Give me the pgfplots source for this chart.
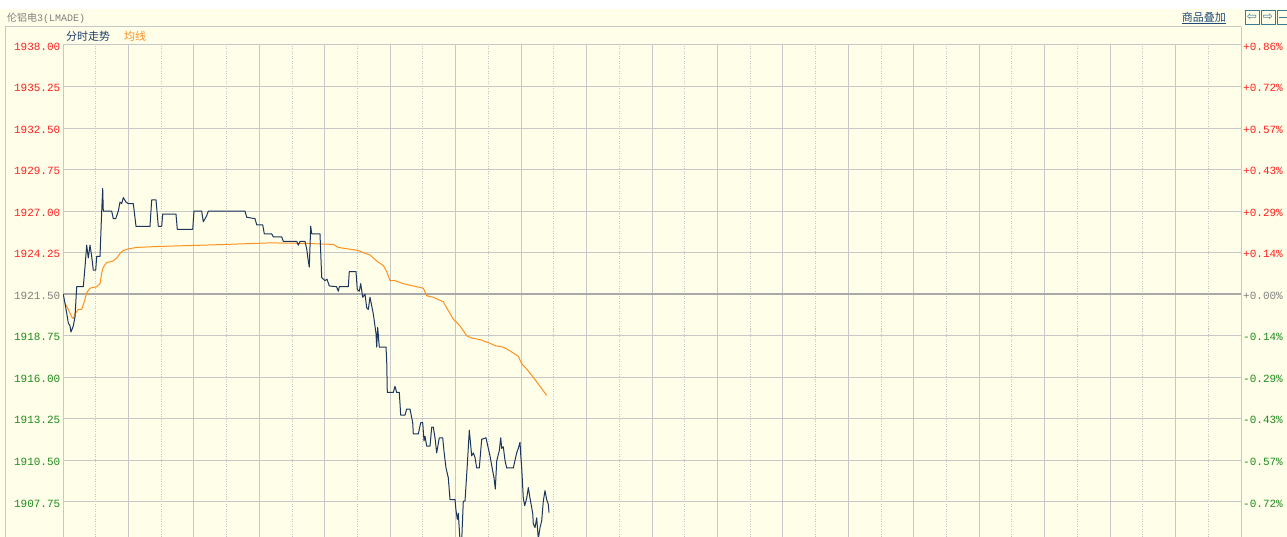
\documentclass[border=0pt]{standalone}
\usepackage{pgfplots}
\pgfplotsset{compat=1.18}
\usepackage{fontspec}
\newfontfamily\mono{Liberation Mono}
\newfontfamily\cjk{Noto Sans CJK SC}
\newfontfamily\dejavu{DejaVu Sans}
\definecolor{bg}{HTML}{FFFEE8}
\definecolor{gridc}{HTML}{C8C8C8}
\definecolor{gridd}{HTML}{C4C4C4}
\definecolor{cline}{HTML}{A8A8A8}
\definecolor{price}{HTML}{1B365D}
\definecolor{avg}{HTML}{FF9020}
\definecolor{cred}{HTML}{FF2020}
\definecolor{cgreen}{HTML}{1E8C1E}
\definecolor{cgray}{HTML}{808080}
\definecolor{navy}{HTML}{1F3F6A}
\definecolor{linkc}{HTML}{1E4B7A}
\definecolor{iconc}{HTML}{3A7A96}

\pgfplotstableread{
x y
0.3 1921.5
2 1920.9
3.7 1920.25
5.3 1919.6
7 1919.4
8 1919.0
10.3 1919.4
12 1920.0
13.7 1922.0
20.3 1922.0
22 1923.3
23.7 1924.75
25.3 1923.9
27 1924.75
28.7 1924.0
30.3 1923.1
32.7 1923.1
33.7 1924.0
37 1924.0
38.7 1927.0
39.7 1928.5
40.3 1927.0
48.7 1927.0
50.3 1926.5
52.7 1926.5
55.3 1927.0
57 1927.6
58.7 1927.5
60.3 1927.9
63 1927.6
65.3 1927.5
70.3 1927.5
73 1926.0
87 1926.0
88.7 1927.75
93 1927.75
95.3 1926.0
98.7 1926.0
99.7 1926.8
113 1926.8
114.3 1925.8
129.7 1925.8
131 1927.0
138.7 1927.0
140.3 1926.3
143.7 1926.7
145.3 1927.0
182 1927.0
183.7 1926.6
192 1926.5
193.7 1926.1
199.7 1926.1
201.3 1925.5
208.7 1925.5
210.3 1925.3
218.7 1925.3
220.3 1925.0
233.7 1925.0
235.3 1924.75
237 1925.0
242 1925.0
243.7 1924.5
245.3 1923.7
246.3 1923.3
247.7 1926.0
248.7 1925.5
257 1925.5
258.7 1922.6
262 1922.4
264 1922.5
266.3 1922.05
273.5 1922.0
275.3 1921.7
276.3 1922.0
285.3 1922.0
286.3 1923.0
293 1923.0
294.3 1921.8
296.3 1921.7
297.7 1922.2
299.7 1921.3
302 1921.5
303.7 1920.6
305.3 1920.5
307 1921.3
310.3 1920.2
313 1918.9
313.7 1918.0
314.7 1919.3
316.3 1918.0
323 1918.0
323.7 1917.1
324.3 1915.0
330.3 1915.0
332 1915.4
333.7 1915.0
336.3 1915.0
337.7 1913.5
342 1913.5
343.7 1913.9
347 1913.9
349.7 1913.0
350.3 1912.25
355.3 1912.25
357.7 1913.0
359.7 1913.0
361 1911.8
362 1912.1
363.7 1911.45
367 1911.45
368.7 1912.7
370.3 1912.7
372 1912.0
373.7 1911.0
376.3 1912.0
379.7 1912.0
381 1911.1
383 1910.0
385.3 1909.35
387 1907.9
392 1907.9
393 1907.2
394.3 1906.6
395.3 1907.0
397 1905.2
398.7 1905.2
400.3 1907.8
402 1907.8
404.3 1910.2
406.3 1912.5
407 1912.0
408.7 1910.8
410.3 1911.0
412 1910.7
413.7 1910.0
416.3 1910.0
418.7 1911.9
423 1912.0
424.3 1911.6
427 1910.8
429.7 1909.8
431 1909.35
432.3 1908.6
433.7 1910.45
436.3 1911.15
437.7 1912.0
438.7 1911.3
440.3 1911.4
442 1910.5
443.7 1910.0
450.3 1910.0
453.7 1911.0
455.3 1911.3
457 1911.7
457.7 1910.9
458.7 1910.0
460.3 1908.0
461.7 1907.5
463.7 1908.0
465.3 1908.7
467 1908.0
469.7 1907.0
470.3 1906.3
472 1906.05
473.7 1906.7
475.3 1905.3
477 1906.05
478.7 1906.5
480.3 1907.8
482 1908.5
483.7 1907.9
485.3 1907.6
486 1907.05
}\pricedata

\pgfplotstableread{
x y
2 1920.9
5.3 1920.5
8.7 1920.0
10.3 1919.9
12 1920.2
15.3 1920.5
18.7 1920.5
22 1921.15
23.7 1921.6
27 1921.9
33.7 1922.0
37 1922.2
38.7 1922.9
40.3 1923.3
43.7 1923.6
50.3 1923.7
53.7 1923.9
57 1924.2
60.3 1924.4
65.3 1924.5
73.7 1924.6
90.3 1924.65
113.7 1924.7
140.3 1924.75
163.7 1924.8
207 1924.9
240 1924.87
270.3 1924.8
275.3 1924.6
295.3 1924.4
300.3 1924.25
307 1924.1
313.7 1923.7
320.3 1923.4
323.7 1923.0
327 1922.4
332 1922.4
340.3 1922.2
350.3 1922.05
360.3 1921.9
363.7 1921.4
370.3 1921.3
380.3 1921.0
383.7 1920.6
390.3 1919.85
397 1919.4
403.7 1918.75
408.7 1918.6
417 1918.5
427 1918.25
432 1918.1
440.3 1918.0
447 1917.75
455.3 1917.4
458.7 1916.9
463.7 1916.55
470.3 1916.0
475.3 1915.55
483.7 1914.8
}\avgdata

\begin{document}
\begin{tikzpicture}[x=1pt,y=1pt]
\useasboundingbox (0,0) rectangle (1287,-537);
\fill[white] (0,0) rectangle (1287,-537);
\fill[bg] (0,-9) rectangle (1287,-537);
% frame lines
\draw[gridc, line width=1pt] (5,-27) -- (1241,-27);
\draw[gridc, line width=1pt] (5,-27) -- (5,-537);
\draw[gridc, line width=1pt] (1241,-27) -- (1241,-45);
% title
\node[anchor=west, inner sep=0pt, text=cgray] at (7,-18.5)
  {\cjk\fontsize{10}{10}\selectfont 伦铝电\mono\fontsize{10}{10}\selectfont 3(LMADE)};
\node[anchor=east, inner sep=0pt, text=linkc] at (1226,-18)
  {\cjk\fontsize{11}{11}\selectfont\underline{商品叠加}};
% icons
\foreach \xa/\sym in {1245/⇦,1261/⇨}{
  \draw[iconc, line width=0.8pt, fill=bg] (\xa,-10.5) rectangle ++(14,-14);
  \node[text=iconc, inner sep=0pt] at (\xa+7,-17.5) {\dejavu\fontsize{12}{12}\selectfont \sym};
}
\draw[iconc, line width=0.8pt, fill=bg] (1277,-10.5) rectangle ++(14,-14);
\draw[iconc, line width=1pt] (1279,-17.5) -- (1289,-17.5);

% legend
\node[anchor=west, inner sep=0pt, text=navy] at (66,-36)
  {\cjk\fontsize{11}{11}\selectfont 分时走势};
\node[anchor=west, inner sep=0pt, text=avg] at (124,-36)
  {\cjk\fontsize{11}{11}\selectfont 均线};

\begin{axis}[
  at={(63pt,-537pt)}, anchor=south west,
  scale only axis, width=1178pt, height=492pt,
  xmin=0, xmax=1178, ymin=1905.43, ymax=1938,
  xtick={0,65.44,130.89,196.33,261.78,327.22,392.67,458.11,523.56,589,654.44,719.89,785.33,850.78,916.22,981.67,1047.11,1112.56,1178},
  minor xtick={32.72,98.17,163.61,229.06,294.5,359.94,425.39,490.83,556.28,621.72,687.17,752.61,818.06,883.5,948.94,1014.39,1079.83,1145.28},
  ytick={1907.75,1910.5,1913.25,1916,1918.75,1921.5,1924.25,1927,1929.75,1932.5,1935.25,1938},
  xticklabels={}, yticklabels={},
  major tick length=0pt, minor tick length=0pt,
  xmajorgrids=true, xminorgrids=true, ymajorgrids=true,
  major grid style={draw=gridc, line width=1pt},
  minor x grid style={draw=gridd, line width=1pt, dash pattern=on 1pt off 1.5pt},
  axis line style={draw=none},
  clip mode=individual,
  every axis plot/.append style={line join=round},
]
\draw[cline, line width=1.6pt] (axis cs:0,1921.5) -- (axis cs:1178,1921.5);
\addplot[avg, line width=1pt, no marks] table[x=x,y=y] {\avgdata};
\addplot[price, line width=1pt, no marks] table[x=x,y=y] {\pricedata};
% left labels
\begin{scope}[every node/.style={anchor=east, inner sep=0pt, xshift=-2.5pt, yshift=-1.5pt, font=\mono\fontsize{11}{11}\selectfont}]
\node[text=cred] at (axis cs:0,1938) {1938.00};
\node[text=cred] at (axis cs:0,1935.25) {1935.25};
\node[text=cred] at (axis cs:0,1932.5) {1932.50};
\node[text=cred] at (axis cs:0,1929.75) {1929.75};
\node[text=cred] at (axis cs:0,1927) {1927.00};
\node[text=cred] at (axis cs:0,1924.25) {1924.25};
\node[text=cgray] at (axis cs:0,1921.5) {1921.50};
\node[text=cgreen] at (axis cs:0,1918.75) {1918.75};
\node[text=cgreen] at (axis cs:0,1916) {1916.00};
\node[text=cgreen] at (axis cs:0,1913.25) {1913.25};
\node[text=cgreen] at (axis cs:0,1910.5) {1910.50};
\node[text=cgreen] at (axis cs:0,1907.75) {1907.75};
\end{scope}
% right labels
\begin{scope}[every node/.style={anchor=west, inner sep=0pt, xshift=2pt, yshift=-1.5pt, font=\mono\fontsize{11}{11}\selectfont}]
\node[text=cred] at (axis cs:1178,1938) {+0.86\%};
\node[text=cred] at (axis cs:1178,1935.25) {+0.72\%};
\node[text=cred] at (axis cs:1178,1932.5) {+0.57\%};
\node[text=cred] at (axis cs:1178,1929.75) {+0.43\%};
\node[text=cred] at (axis cs:1178,1927) {+0.29\%};
\node[text=cred] at (axis cs:1178,1924.25) {+0.14\%};
\node[text=cgray] at (axis cs:1178,1921.5) {+0.00\%};
\node[text=cgreen] at (axis cs:1178,1918.75) {-0.14\%};
\node[text=cgreen] at (axis cs:1178,1916) {-0.29\%};
\node[text=cgreen] at (axis cs:1178,1913.25) {-0.43\%};
\node[text=cgreen] at (axis cs:1178,1910.5) {-0.57\%};
\node[text=cgreen] at (axis cs:1178,1907.75) {-0.72\%};
\end{scope}
\end{axis}
\end{tikzpicture}
\end{document}
